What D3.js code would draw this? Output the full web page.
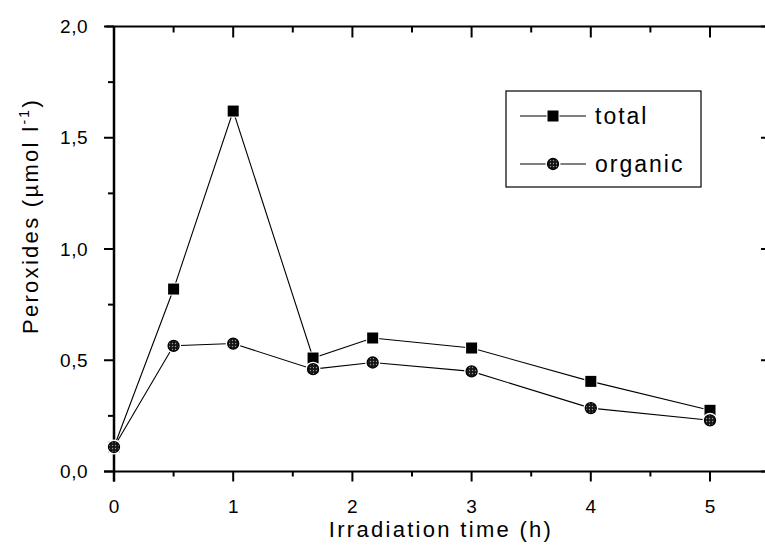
<!DOCTYPE html>
<html>
<head>
<meta charset="utf-8">
<script src="https://cdn.jsdelivr.net/npm/d3@7"></script>
<style>
  body { margin: 0; background: #fff; }
  svg { display: block; font-family: Arial, "Liberation Sans", sans-serif; }
</style>
</head>
<body>
<div id="chart"></div>
<script>
// data
const times = [0, 0.5, 1, 1.67, 2.17, 3, 4, 5];
const total = [0.11, 0.82, 1.62, 0.51, 0.60, 0.555, 0.405, 0.275];
const organic = [0.11, 0.565, 0.575, 0.46, 0.49, 0.45, 0.285, 0.23];
const xTicks = [0, 1, 2, 3, 4, 5];
const yTicks = [0, 0.5, 1.0, 1.5, 2.0];
const legendLabels = ["total", "organic"];

const width = 765, height = 549;
const svg = d3.select('#chart').append('svg')
  .attr('width', width)
  .attr('height', height);

// pattern for the dotted circle markers
const defs = svg.append('defs');
const pat = defs.append('pattern')
  .attr('id', 'dots')
  .attr('patternUnits', 'userSpaceOnUse')
  .attr('width', 3).attr('height', 3);
pat.append('rect').attr('width', 3).attr('height', 3).attr('fill', '#151515');
pat.append('circle').attr('cx', 1.5).attr('cy', 1.5).attr('r', 0.65).attr('fill', '#999');

const x = d3.scaleLinear().domain([0, 5]).range([114, 710]);
const y = d3.scaleLinear().domain([0, 2]).range([471.5, 26.5]);
const rightX = 771;

const fmt = d => d3.format('.1f')(d).replace('.', ',');

// bottom axis
const xAxis = svg.append('g').attr('transform', `translate(0,${y(0)})`);
xAxis.append('line').attr('x1', 104).attr('x2', width).attr('stroke', '#000').attr('stroke-width', 2);
xAxis.selectAll('.maj').data(d3.range(0, 5.6, 1)).enter().append('line')
  .attr('x1', d => x(d)).attr('x2', d => x(d)).attr('y1', 0).attr('y2', 10)
  .attr('stroke', '#000').attr('stroke-width', 2);
xAxis.selectAll('.min').data(d3.range(0.5, 5.6, 1)).enter().append('line')
  .attr('x1', d => x(d)).attr('x2', d => x(d)).attr('y1', 0).attr('y2', 5)
  .attr('stroke', '#000').attr('stroke-width', 2);
xAxis.selectAll('text').data(xTicks).enter().append('text')
  .attr('x', d => x(d)).attr('y', 41)
  .attr('text-anchor', 'middle').attr('font-size', 19)
  .text(d => d);

// top axis (ticks inward)
const topAxis = svg.append('g').attr('transform', `translate(0,${y(2)})`);
topAxis.append('line').attr('x1', 106).attr('x2', width).attr('stroke', '#000').attr('stroke-width', 2);
topAxis.selectAll('.maj').data(d3.range(1, 5.6, 1)).enter().append('line')
  .attr('x1', d => x(d)).attr('x2', d => x(d)).attr('y1', 0).attr('y2', 11)
  .attr('stroke', '#000').attr('stroke-width', 2);
topAxis.selectAll('.min').data(d3.range(0.5, 5.6, 1)).enter().append('line')
  .attr('x1', d => x(d)).attr('x2', d => x(d)).attr('y1', 0).attr('y2', 6)
  .attr('stroke', '#000').attr('stroke-width', 2);

// left axis
const yAxis = svg.append('g').attr('transform', `translate(${x(0)},0)`);
yAxis.append('line').attr('y1', y(2)).attr('y2', y(0) + 10).attr('stroke', '#000').attr('stroke-width', 2.5);
yAxis.selectAll('.maj').data(yTicks).enter().append('line')
  .attr('y1', d => y(d)).attr('y2', d => y(d)).attr('x1', 0).attr('x2', -10)
  .attr('stroke', '#000').attr('stroke-width', 2);
yAxis.selectAll('.min').data(d3.range(0.25, 2, 0.5)).enter().append('line')
  .attr('y1', d => y(d)).attr('y2', d => y(d)).attr('x1', 0).attr('x2', -6)
  .attr('stroke', '#000').attr('stroke-width', 2);
yAxis.selectAll('text').data(yTicks).enter().append('text')
  .attr('x', -26).attr('y', d => y(d) + 6.5)
  .attr('text-anchor', 'end').attr('font-size', 19).attr('letter-spacing', 0.5)
  .text(fmt);

// right axis, mostly cut off by the frame
const rAxis = svg.append('g').attr('transform', `translate(${rightX},0)`);
rAxis.selectAll('.maj').data(yTicks).enter().append('line')
  .attr('y1', d => y(d)).attr('y2', d => y(d)).attr('x1', 0).attr('x2', -10)
  .attr('stroke', '#000').attr('stroke-width', 2);
rAxis.selectAll('.min').data(d3.range(0.25, 2, 0.5)).enter().append('line')
  .attr('y1', d => y(d)).attr('y2', d => y(d)).attr('x1', 0).attr('x2', -6)
  .attr('stroke', '#bbb').attr('stroke-width', 2);

// axis titles
svg.append('text')
  .attr('x', 441).attr('y', 537)
  .attr('text-anchor', 'middle').attr('font-size', 22).attr('letter-spacing', 2.3)
  .text('Irradiation time (h)');

const yTitle = svg.append('text')
  .attr('transform', 'translate(38,216) rotate(-90)')
  .attr('text-anchor', 'middle').attr('font-size', 22).attr('letter-spacing', 2.3);
yTitle.append('tspan').text('Peroxides (µmol l');
yTitle.append('tspan').attr('dy', -9).attr('font-size', 14).text('-1');
yTitle.append('tspan').attr('dy', 9).text(')');

// series lines
const line = d3.line().x((d, i) => x(times[i])).y(d => y(d));
[total, organic].forEach(s => {
  svg.append('path').datum(s).attr('d', line)
    .attr('fill', 'none').attr('stroke', '#000').attr('stroke-width', 1.1);
});

// markers, white halo gives the small gap at the line ends
function square(g, cx, cy) {
  g.append('rect').attr('x', cx - 5.5).attr('y', cy - 5.5).attr('width', 11).attr('height', 11)
    .attr('fill', '#000').attr('stroke', '#fff').attr('stroke-width', 2).attr('paint-order', 'stroke');
}
function dotCircle(g, cx, cy) {
  g.append('circle').attr('cx', cx).attr('cy', cy).attr('r', 7.5).attr('fill', '#fff');
  g.append('circle').attr('cx', cx).attr('cy', cy).attr('r', 5.5)
    .attr('fill', 'url(#dots)').attr('stroke', '#000').attr('stroke-width', 1.3);
}
const mk = svg.append('g');
total.forEach((v, i) => square(mk, x(times[i]), y(v)));
organic.forEach((v, i) => dotCircle(mk, x(times[i]), y(v)));

// legend
const leg = svg.append('g');
leg.append('rect').attr('x', 506).attr('y', 91).attr('width', 195).attr('height', 96)
  .attr('fill', '#fff').attr('stroke', '#000').attr('stroke-width', 1.2);
const legY = [116, 164];
legendLabels.forEach((lab, i) => {
  leg.append('line').attr('x1', 520).attr('x2', 586).attr('y1', legY[i]).attr('y2', legY[i])
    .attr('stroke', '#000').attr('stroke-width', 1.1);
  if (i === 0) square(leg, 553, legY[i]); else dotCircle(leg, 553, legY[i]);
  leg.append('text').attr('x', 595).attr('y', legY[i] + 8)
    .attr('font-size', 23).attr('letter-spacing', 2).text(lab);
});
</script>
</body>
</html>
